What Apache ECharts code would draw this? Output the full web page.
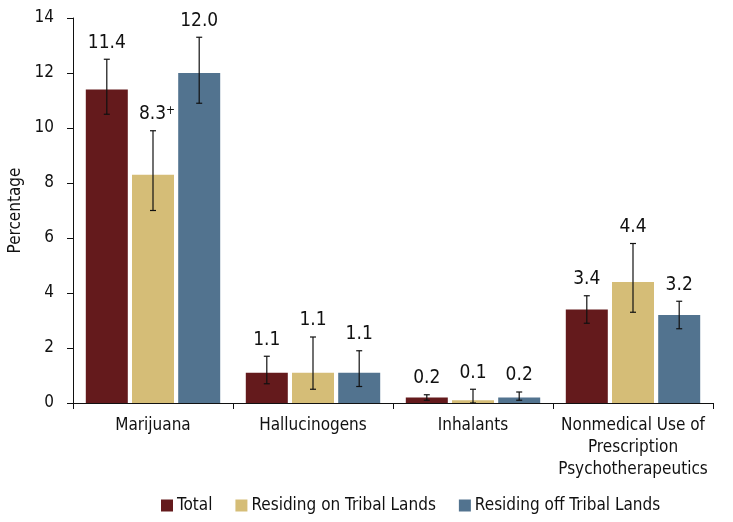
<!DOCTYPE html>
<html>
<head>
<meta charset="utf-8">
<script src="https://cdn.jsdelivr.net/npm/echarts@6/dist/echarts.min.js"></script>
<style>html,body{margin:0;padding:0;background:#fff}#c{width:733px;height:522px}</style>
</head>
<body>
<div id="c"></div>
<script>
var categories = ['Marijuana', 'Hallucinogens', 'Inhalants', 'Nonmedical Use of\nPrescription\nPsychotherapeutics'];
var seriesNames = ['Total', 'Residing on Tribal Lands', 'Residing off Tribal Lands'];
var totalValues = [11.4, 1.1, 0.2, 3.4];
var totalLow = [10.5, 0.7, 0.1, 2.9];
var totalHigh = [12.5, 1.7, 0.3, 3.9];
var onValues = [8.3, 1.1, 0.1, 4.4];
var onLow = [7.0, 0.5, 0.0, 3.3];
var onHigh = [9.9, 2.4, 0.5, 5.8];
var offValues = [12.0, 1.1, 0.2, 3.2];
var offLow = [10.9, 0.6, 0.1, 2.7];
var offHigh = [13.3, 1.9, 0.4, 3.7];
var onNotes = ['+', '', '', ''];
var yTicks = [0, 2, 4, 6, 8, 10, 12, 14];
var colors = ['#641a1c', '#d5bd77', '#52738f'];

var FONT = '"Liberation Sans Narrow", "DejaVu Sans Condensed", "Liberation Sans", sans-serif';
var CAT_GAP = 0.16, BAR_GAP = 0.1;

var groups = [
  {vals: totalValues, low: totalLow, high: totalHigh, notes: ['', '', '', '']},
  {vals: onValues, low: onLow, high: onHigh, notes: onNotes},
  {vals: offValues, low: offLow, high: offHigh, notes: ['', '', '', '']}
];

var series = [];
groups.forEach(function (g, si) {
  series.push({
    name: seriesNames[si],
    type: 'bar',
    data: g.vals,
    itemStyle: {color: colors[si]},
    barCategoryGap: (CAT_GAP * 100) + '%',
    barGap: (BAR_GAP * 100) + '%',
    silent: true
  });
});
groups.forEach(function (g, si) {
  var data = g.vals.map(function (v, i) {
    return [i, v, g.low[i], g.high[i], g.notes[i]];
  });
  series.push({
    type: 'custom',
    silent: true,
    z: 5,
    data: data,
    encode: {x: 0, y: [2, 3]},
    renderItem: function (params, api) {
      var ci = api.value(0);
      var catW = api.size([1, 0])[0];
      var barW = catW * (1 - CAT_GAP) / (3 + 2 * BAR_GAP);
      var off = (si - 1) * barW * (1 + BAR_GAP);
      var pLow = api.coord([ci, api.value(2)]);
      var pHigh = api.coord([ci, api.value(3)]);
      var x = pLow[0] + off;
      var cap = 3;
      var st = {stroke: '#111', lineWidth: 1.2};
      var v = data[params.dataIndex][1];
      var note = data[params.dataIndex][4];
      var txt = '{v|' + v.toFixed(1) + '}' + (note ? '{s|' + note + '}' : '');
      return {
        type: 'group',
        children: [
          {type: 'line', shape: {x1: x, y1: pLow[1], x2: x, y2: pHigh[1]}, style: st},
          {type: 'line', shape: {x1: x - cap, y1: pLow[1], x2: x + cap, y2: pLow[1]}, style: st},
          {type: 'line', shape: {x1: x - cap, y1: pHigh[1], x2: x + cap, y2: pHigh[1]}, style: st},
          {type: 'text', x: x + (note ? 4 : 0), y: pHigh[1] - 7,
            style: {text: txt, align: 'center', verticalAlign: 'bottom',
              rich: {
                v: {fontFamily: FONT, fontSize: 19, fill: '#111'},
                s: {fontFamily: FONT, fontSize: 12, fill: '#111', verticalAlign: 'top', padding: [0, 0, 7, 0]}
              }}}
        ]
      };
    }
  });
});

var chart = echarts.init(document.getElementById('c'));
chart.setOption({
  animation: false,
  color: colors,
  textStyle: {fontFamily: FONT},
  grid: {left: 73, right: 20, top: 18, bottom: 119, containLabel: false, outerBoundsMode: 'none'},
  legend: {
    data: seriesNames,
    bottom: 3,
    left: 156,
    icon: 'rect',
    itemWidth: 12,
    itemHeight: 12,
    itemGap: 23,
    textStyle: {fontFamily: FONT, fontSize: 17, color: '#111', padding: [0, 0, 0, -1]}
  },
  xAxis: {
    type: 'category',
    data: categories,
    axisLine: {lineStyle: {color: '#111', width: 1}},
    axisTick: {show: true, length: 6, lineStyle: {color: '#111'}},
    axisLabel: {fontFamily: FONT, fontSize: 17, color: '#111', margin: 12, lineHeight: 22, interval: 0}
  },
  yAxis: {
    type: 'value',
    min: yTicks[0],
    max: yTicks[yTicks.length - 1],
    interval: yTicks[1] - yTicks[0],
    name: 'Percentage',
    nameLocation: 'middle',
    nameGap: 48,
    nameTextStyle: {fontFamily: FONT, fontSize: 17, color: '#111'},
    splitLine: {show: false},
    axisLine: {show: true, lineStyle: {color: '#111', width: 1}},
    axisTick: {show: true, length: 6, lineStyle: {color: '#111'}},
    axisLabel: {fontFamily: FONT, fontSize: 17, color: '#111', margin: 19}
  },
  series: series
});
</script>
</body>
</html>
